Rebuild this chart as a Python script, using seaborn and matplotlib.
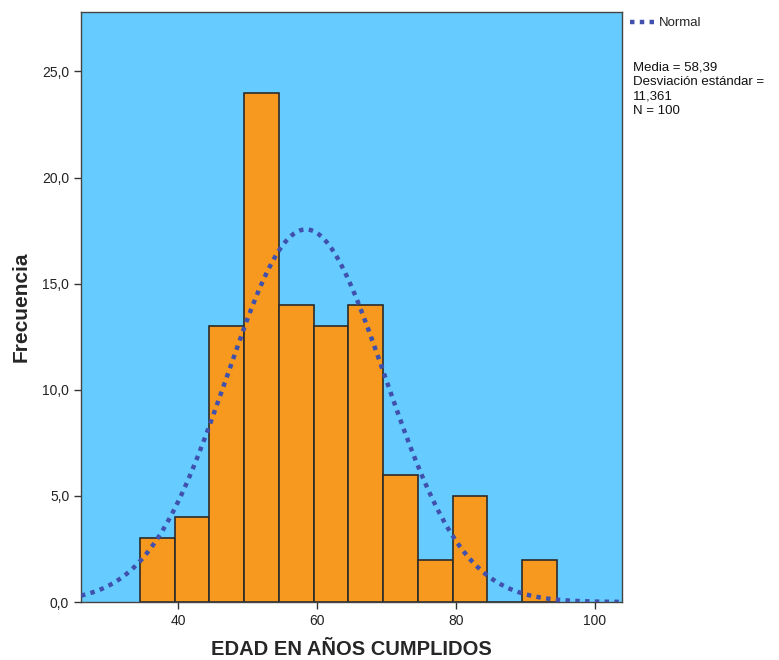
"""Histogram of age with fitted normal curve (SPSS style)."""

import numpy as np
import pandas as pd
import matplotlib
matplotlib.use("Agg")
import matplotlib.pyplot as plt
import seaborn as sns

# Data
bin_edges = [34.5, 39.5, 44.5, 49.5, 54.5, 59.5, 64.5, 69.5, 74.5, 79.5, 84.5, 89.5, 94.5]
bin_counts = [3, 4, 13, 24, 14, 13, 14, 6, 2, 5, 0, 2]
media = 58.39
desv = 11.361
n_total = 100
x_ticks = [40, 60, 80, 100]
y_ticks = [0, 5, 10, 15, 20, 25]

sns.set_style("white")
plt.rcParams['font.family'] = ['Liberation Sans', 'DejaVu Sans']

bin_mid = [(a + b) / 2 for a, b in zip(bin_edges[:-1], bin_edges[1:])]
df = pd.DataFrame({'edad': bin_mid, 'frecuencia': bin_counts})

fig = plt.figure(figsize=(7.79, 6.60), dpi=100)
ax = fig.add_axes([81 / 779, 58 / 660, (622 - 81) / 779, (602 - 12) / 660])
ax.set_facecolor('#66CCFF')

sns.histplot(data=df, x='edad', weights='frecuencia', bins=bin_edges,
             color='#F7991E', alpha=1, edgecolor='#2b2b2b', linewidth=1.2, ax=ax)

# fitted normal curve scaled to counts
bw = bin_edges[1] - bin_edges[0]
xs = np.linspace(26, 104, 400)
ys = n_total * bw / (desv * np.sqrt(2 * np.pi)) * np.exp(-0.5 * ((xs - media) / desv) ** 2)
sns.lineplot(x=xs, y=ys, ax=ax, color='#3F51AD', linestyle=(0, (1, 1.2)),
             linewidth=3.2, zorder=5, label='Normal')

ax.set_xlim(26, 103.9)
ax.set_ylim(0, 27.8)
ax.set_xticks(x_ticks)
ax.set_xticklabels([str(t) for t in x_ticks], fontsize=10)
ax.set_yticks(y_ticks)
ax.set_yticklabels([f'{t:.1f}'.replace('.', ',') for t in y_ticks], fontsize=10)
ax.tick_params(axis='both', length=5, width=1, color='#333333', colors='#222222')
ax.tick_params(axis='x', direction='out', bottom=True)
ax.tick_params(axis='y', direction='out', left=True)
for s in ax.spines.values():
    s.set_color('#444444')
    s.set_linewidth(1)

ax.set_xlabel('EDAD EN AÑOS CUMPLIDOS', fontsize=14.5, fontweight='bold', labelpad=9)
ax.set_ylabel('Frecuencia', fontsize=15, fontweight='bold', labelpad=8)

leg = ax.legend(loc='upper left', bbox_to_anchor=(1.0, 1.005), frameon=False,
                fontsize=9.5, handlelength=1.9, handletextpad=0.3, borderaxespad=0.2)

fig.text(633 / 779, 1 - 61 / 660,
         'Media = 58,39\nDesviación estándar =\n11,361\nN = 100',
         fontsize=9.5, va='top', ha='left', linespacing=1.3, color='#111111')

plt.savefig('out.png', dpi=100)
plt.close()
